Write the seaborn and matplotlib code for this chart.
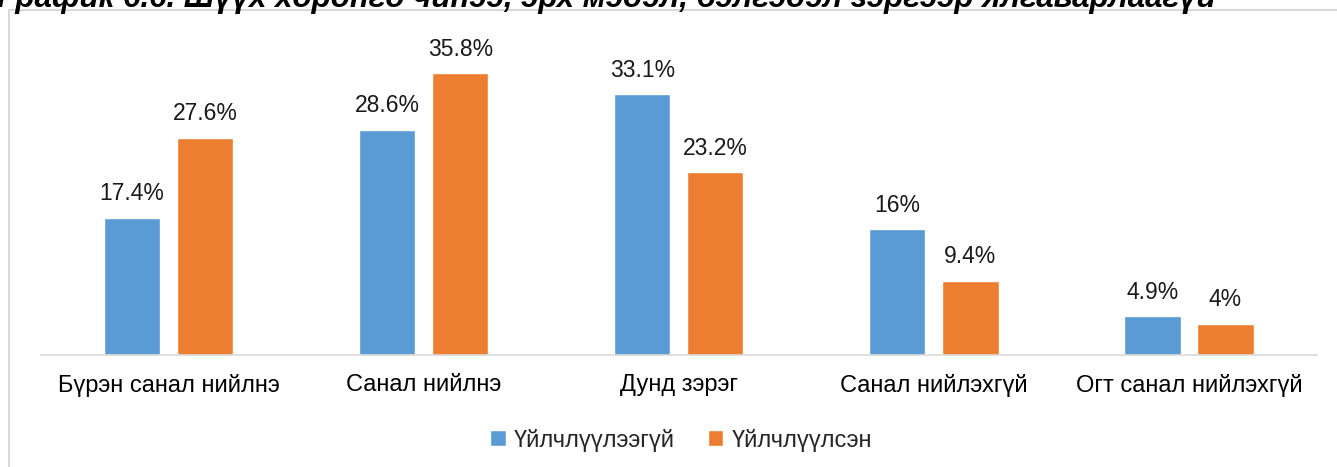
import matplotlib
matplotlib.use('Agg')
import matplotlib.pyplot as plt
import seaborn as sns
import pandas as pd
from matplotlib.patches import Rectangle

categories = ['Бүрэн санал нийлнэ', 'Санал нийлнэ', 'Дунд зэрэг', 'Санал нийлэхгүй', 'Огт санал нийлэхгүй']
series_names = ['Үйлчлүүлээгүй', 'Үйлчлүүлсэн']
not_served = [17.4, 28.6, 33.1, 16, 4.9]
served = [27.6, 35.8, 23.2, 9.4, 4]
colors = ['#5B9BD5', '#ED7D31']
title = 'График 6.6. Шүүх хөрөнгө чинээ, эрх мэдэл, бэлгэдэл зэргээр ялгаварлаагүй'

df = pd.DataFrame({
    'cat': categories * 2,
    'group': [series_names[0]] * len(categories) + [series_names[1]] * len(categories),
    'value': not_served + served,
})

sns.set_theme(style='white')
plt.rcParams['font.family'] = ['Liberation Sans', 'DejaVu Sans']

fig = plt.figure(figsize=(13.37, 4.67), dpi=100)
ax = fig.add_axes([0.0307, 0.2398, 0.954, 0.6745])

# light frame around the chart (as in the Excel export)
fig.patches.append(Rectangle((9 / 1337, -0.05), 1.1, 1 - 10 / 467 + 0.05, transform=fig.transFigure,
                             fill=False, edgecolor='#D9D9D9', linewidth=1.5))
# title is cropped at the top edge in the reference
fig.text(-0.002, 1 - 7 / 467, title, fontsize=22.5, fontweight='bold', fontstyle='italic',
         va='baseline', ha='left', color='black')

sns.barplot(data=df, x='cat', y='value', hue='group', palette=colors, width=0.573, gap=0.23,
            saturation=1, ax=ax, legend=True)

for cont in ax.containers:
    ax.bar_label(cont, labels=[f'{v:g}%' for v in cont.datavalues], padding=9, fontsize=16.5, color='#1a1a1a')

ax.set_ylim(0, 40)
ax.set_xlim(-0.5, 4.5)
ax.set_xlabel('')
ax.set_ylabel('')
ax.set_yticks([])
ax.tick_params(axis='x', labelsize=17, colors='black', pad=14, length=0)
for s in ['top', 'right', 'left']:
    ax.spines[s].set_visible(False)
ax.spines['bottom'].set_color('#D9D9D9')
ax.spines['bottom'].set_linewidth(1.2)

ax.legend(loc='center', bbox_to_anchor=(0.502, -0.27), ncol=2, frameon=False, fontsize=17,
          handlelength=0.65, handleheight=0.65, handletextpad=0.35, columnspacing=1.4)

fig.savefig('out.png', dpi=100)
